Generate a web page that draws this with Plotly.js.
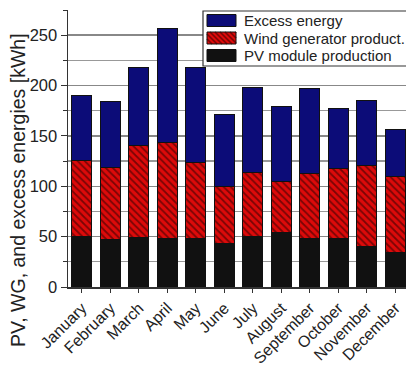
<!DOCTYPE html>
<html>
<head>
<meta charset="utf-8">
<script src="https://cdn.plot.ly/plotly-3.0.1.min.js"></script>
<style>html,body{margin:0;padding:0;overflow:hidden;background:#fff}</style>
</head>
<body>
<div id="chart" style="width:406px;height:367px"></div>
<script>
var months = ["January","February","March","April","May","June","July","August","September","October","November","December"];
var pvProduction = [50, 47, 49, 48, 48, 43, 50, 54, 48, 48, 40, 34];
var windProduction = [76, 72, 91, 95, 76, 57, 64, 51, 65, 70, 81, 76];
var excessEnergy = [64, 65, 78, 114, 94, 71, 84, 74, 84, 59, 64, 46];
var seriesNames = ["PV module production", "Wind generator product.", "Excess energy"];
var yTickVals = [0, 50, 100, 150, 200, 250];

var colPV = '#111111', colWind = '#dd0a0a', colStripe = '#7a0505', colExcess = '#0c0c78';
var lineStyle = {color: '#111', width: 1};
var traces = [
  {type: 'bar', name: seriesNames[0], x: months, y: pvProduction,
   marker: {color: colPV, line: lineStyle}},
  {type: 'bar', name: seriesNames[1], x: months, y: windProduction,
   marker: {color: colWind, line: lineStyle,
            pattern: {shape: '\\', fillmode: 'replace', bgcolor: colWind, fgcolor: colStripe, size: 5, solidity: 0.35}}},
  {type: 'bar', name: seriesNames[2], x: months, y: excessEnergy,
   marker: {color: colExcess, line: lineStyle}}
];

// page geometry (pixels) -> paper coordinates
var W = 406, H = 367, mL = 68, mR = 0, mT = 10, mB = 80;
var pw = W - mL - mR, ph = H - mT - mB;
function px(x) { return (x - mL) / pw; }
function py(y) { return (H - mB - y) / ph; }

// custom legend (top row = last series)
var legendRowsY = [20.5, 38, 55.5];
var legendOrder = [2, 1, 0];
var swatchColors = [colPV, colWind, colExcess];
var swX0 = 207, swX1 = 236, swH = 12;
var shapes = [{type: 'rect', xref: 'paper', yref: 'paper', x0: px(203), x1: px(412), y0: py(66), y1: py(11),
               fillcolor: '#fff', line: {color: '#333', width: 1.2}, layer: 'above'}];
var annotations = [];

legendOrder.forEach(function (si, row) {
  var cy = legendRowsY[row];
  var top = cy - swH / 2, bot = cy + swH / 2;
  shapes.push({type: 'rect', xref: 'paper', yref: 'paper', x0: px(swX0), x1: px(swX1), y0: py(bot), y1: py(top),
               fillcolor: swatchColors[si], line: {width: 0}, layer: 'above'});
  if (si === 1) {
    // diagonal hatch inside the swatch, clipped to its box
    var w = swX1 - swX0;
    for (var k = -swH; k < w; k += 5) {
      var t0 = Math.max(0, -k), t1 = Math.min(swH, w - k);
      if (t1 <= t0) continue;
      shapes.push({type: 'line', xref: 'paper', yref: 'paper',
                   x0: px(swX0 + k + t0), y0: py(top + t0), x1: px(swX0 + k + t1), y1: py(top + t1),
                   line: {color: colStripe, width: 1.6}, layer: 'above'});
    }
  }
  shapes.push({type: 'rect', xref: 'paper', yref: 'paper', x0: px(swX0), x1: px(swX1), y0: py(bot), y1: py(top),
               fillcolor: 'rgba(0,0,0,0)', line: {color: '#111', width: 1}, layer: 'above'});
  annotations.push({text: seriesNames[si], xref: 'paper', yref: 'paper', x: px(242), y: py(cy),
                    xanchor: 'left', yanchor: 'middle', showarrow: false, font: {size: 15, color: '#222'}});
});

// y-axis title
annotations.push({text: 'PV, WG, and excess energies [kWh]', xref: 'paper', yref: 'paper',
                  x: px(18), y: py(190), xanchor: 'center', yanchor: 'middle', textangle: -90,
                  showarrow: false, font: {size: 19.5, color: '#222'}});

var layout = {
  width: W, height: H,
  margin: {l: mL, r: mR, t: mT, b: mB},
  barmode: 'stack', bargap: 0.3,
  paper_bgcolor: '#fff', plot_bgcolor: '#fff',
  font: {family: 'Liberation Sans, Arial, sans-serif', color: '#222'},
  showlegend: false,
  xaxis: {type: 'category', range: [-0.49, 11.37], tickangle: -45,
          tickfont: {size: 16}, ticks: 'outside', ticklen: 4, tickcolor: '#333',
          showline: true, linecolor: '#333', linewidth: 1.5, showgrid: false, zeroline: false},
  yaxis: {range: [0, 275], tickvals: yTickVals, tickfont: {size: 16.5},
          ticks: 'outside', ticklen: 6, tickcolor: '#333',
          showline: true, linecolor: '#333', linewidth: 1.5,
          showgrid: true, gridcolor: '#888', gridwidth: 1.5, zeroline: false,
          minor: {dtick: 25, showgrid: true, gridcolor: '#999', gridwidth: 1.2, ticks: 'outside', ticklen: 4, tickcolor: '#333'}},
  shapes: shapes,
  annotations: annotations
};

Plotly.newPlot('chart', traces, layout, {displayModeBar: false, staticPlot: true});
</script>
</body>
</html>
